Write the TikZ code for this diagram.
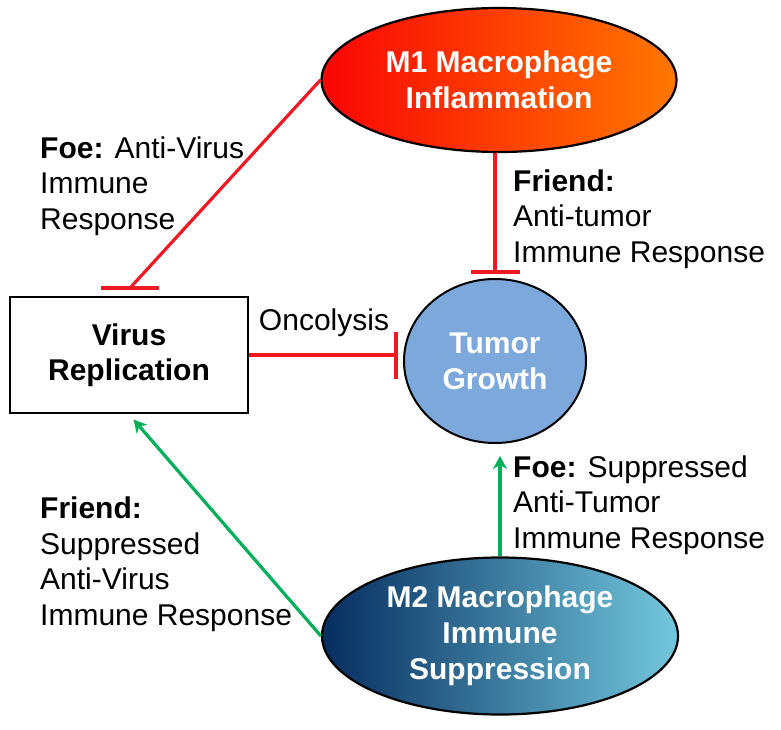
\documentclass[tikz,border=0pt]{standalone}
\usepackage{fontspec}
\setmainfont{Liberation Sans}
\usetikzlibrary{arrows.meta,shapes.geometric,calc}
\definecolor{redline}{RGB}{240,25,35}
\definecolor{greenline}{RGB}{0,175,90}
\definecolor{m1left}{RGB}{250,5,5}
\definecolor{m1right}{RGB}{255,120,0}
\definecolor{m2left}{RGB}{5,45,95}
\definecolor{m2mid}{RGB}{18,75,130}
\definecolor{m2right}{RGB}{115,200,222}
\definecolor{tumorfill}{RGB}{124,168,220}
\begin{document}
\begin{tikzpicture}[x=1pt,y=-1pt,
  txt/.style={font=\fontsize{30}{35.5}\selectfont, align=left, inner sep=0pt, anchor=west},
  oval/.style={ellipse, draw=black, line width=2.2pt, inner sep=0pt,
    font=\fontsize{30}{36}\selectfont\bfseries, text=white, align=center},
  inhib/.style={draw=redline, line width=3.2pt},
  promote/.style={draw=greenline, line width=3.2pt, -{Stealth[length=13pt,width=14pt]}}]
\useasboundingbox (0,0) rectangle (781,729);
\fill[white] (0,0) rectangle (781,729);

% nodes
\node[oval, minimum width=355pt, minimum height=144pt, left color=m1left, right color=m1right] (m1) at (499,80) {M1 Macrophage\\Inflammation};
\node[oval, minimum width=356pt, minimum height=157pt, left color=m2left, middle color=m2mid, right color=m2right] (m2) at (500,636) {M2 Macrophage\\Immune\\Suppression};
\node[oval, fill=tumorfill, line width=2pt, minimum width=182pt, minimum height=164pt] (tg) at (495,361) {Tumor\\Growth};
\node[draw=black, line width=2.5pt, minimum width=238pt, minimum height=116pt, inner sep=0pt,
  font=\fontsize{30}{35}\selectfont\bfseries, align=center] (vr) at (129,355) {Virus\\Replication};

% coordinates for inhibition bars
\coordinate (b1) at (130,288);
\coordinate (b2) at (495,272);
\coordinate (b3) at (396,355);

% inhibitory connectors
\draw[inhib] (m1.west) -- (b1);
\draw[inhib] ($(b1)+(-29,0)$) -- ($(b1)+(29,0)$);
\draw[inhib] (b2 |- m1.south) -- (b2);
\draw[inhib] ($(b2)+(-24.5,0)$) -- ($(b2)+(24.5,0)$);
\draw[inhib] (vr.east) -- (b3);
\draw[inhib] ($(b3)+(0,-23.5)$) -- ($(b3)+(0,23.5)$);

% promoting connectors
\draw[promote, shorten >=12pt] (m2.north) -- (m2.north |- tg.south);
\draw[promote, shorten >=7pt] (m2.west) -- (vr.south);

% labels
\node[txt] (l1) at (40,186) {\textbf{Foe:} Anti-Virus\\Immune\\Response};
\node[txt] (l2) at (513,219) {\textbf{Friend:}\\Anti-tumor\\Immune Response};
\node[txt, anchor=center] (l3) at (324,323) {Oncolysis};
\node[txt] (l4) at (513,505) {\textbf{Foe:} Suppressed\\Anti-Tumor\\Immune Response};
\node[txt] (l5) at (40,564) {\textbf{Friend:}\\Suppressed\\Anti-Virus\\Immune Response};
\end{tikzpicture}
\end{document}
